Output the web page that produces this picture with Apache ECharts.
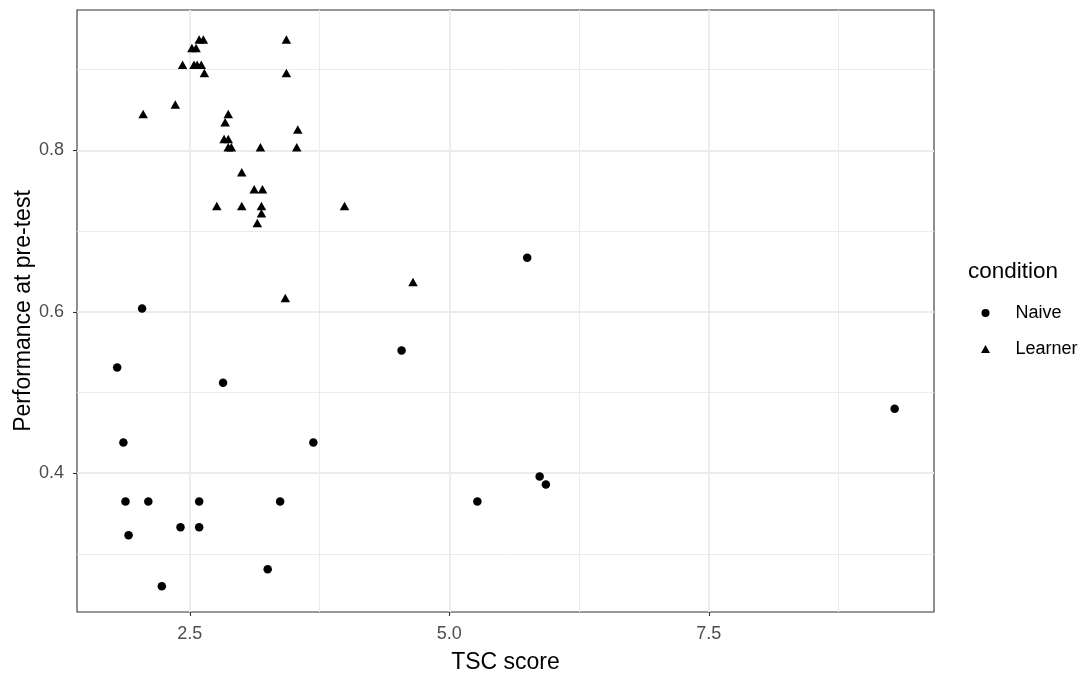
<!DOCTYPE html>
<html>
<head>
<meta charset="utf-8">
<title>Performance at pre-test vs TSC score</title>
<script src="https://cdn.jsdelivr.net/npm/echarts@6/dist/echarts.min.js"></script>
<style>
  html, body { margin: 0; padding: 0; background: #ffffff; }
  #chart { width: 1088px; height: 677px; }
</style>
</head>
<body>
<div id="chart"></div>
<script>
// Observations per condition: [TSC score, performance at pre-test]
const naive = [
  [2.04, 0.604], [1.80, 0.531], [2.82, 0.512], [1.86, 0.438], [3.69, 0.438],
  [1.88, 0.365], [2.10, 0.365], [2.59, 0.365], [3.37, 0.365], [2.41, 0.333],
  [2.59, 0.333], [1.91, 0.323], [3.25, 0.281], [2.23, 0.260], [5.75, 0.667],
  [4.54, 0.552], [9.29, 0.480], [5.87, 0.396], [5.93, 0.386], [5.27, 0.365]
];
const learner = [
  [2.59, 0.9375], [2.63, 0.9375], [3.43, 0.9375], [2.52, 0.927], [2.56, 0.927],
  [2.43, 0.906], [2.54, 0.906], [2.57, 0.906], [2.61, 0.906], [2.64, 0.896],
  [3.43, 0.896], [2.36, 0.857], [2.05, 0.845], [2.87, 0.845], [2.84, 0.835],
  [3.54, 0.826], [2.83, 0.814], [2.87, 0.814], [2.87, 0.804], [2.90, 0.804],
  [3.18, 0.804], [3.53, 0.804], [3.00, 0.773], [3.12, 0.752], [3.20, 0.752],
  [2.76, 0.731], [3.00, 0.731], [3.19, 0.731], [3.99, 0.731], [3.19, 0.722],
  [3.15, 0.710], [4.65, 0.637], [3.42, 0.617]
];

// Axis breaks
const xMajor = [2.5, 5.0, 7.5];
const xMinor = [3.75, 6.25, 8.75];
const yMajor = [0.4, 0.6, 0.8];
const yMinor = [0.3, 0.5, 0.7, 0.9];
const xLimits = [1.413, 9.669];
const yLimits = [0.228, 0.974];

const FONT = '"Liberation Sans", Arial, sans-serif';
const GRID_COL = '#EBEBEB';
const INK = '#333333';
const LABEL_COL = '#4D4D4D';

function gridLines(values, key, width) {
  return values.map(v => ({ [key]: v, lineStyle: { width: width } }));
}

const chart = echarts.init(document.getElementById('chart'), null, { renderer: 'canvas' });

chart.setOption({
  animation: false,
  backgroundColor: '#ffffff',
  textStyle: { fontFamily: FONT },
  title: {
    text: 'condition',
    left: 968,
    top: 260,
    padding: 0,
    textStyle: { fontFamily: FONT, fontSize: 22.5, fontWeight: 'normal', color: '#000000', lineHeight: 24 }
  },
  legend: {
    orient: 'vertical',
    left: 981,
    top: 303,
    padding: 0,
    itemGap: 16,
    itemWidth: 50,
    itemHeight: 8,
    symbolKeepAspect: true,
    selectedMode: false,
    textStyle: { fontFamily: FONT, fontSize: 18, color: '#000000', lineHeight: 20 },
    data: [
      { name: 'Naive', icon: 'path://M4,0A4,4,0,1,1,4,8A4,4,0,1,1,4,0Z' },
      { name: 'Learner', icon: 'path://M4.5,0L9,8L0,8Z' }
    ]
  },
  grid: {
    left: 77,
    right: 154,
    top: 10,
    bottom: 65,
    outerBoundsMode: 'none',
    containLabel: false,
    show: true,
    borderColor: INK,
    borderWidth: 1.1,
    backgroundColor: 'transparent'
  },
  xAxis: {
    type: 'value',
    min: xLimits[0],
    max: xLimits[1],
    name: 'TSC score',
    nameLocation: 'middle',
    nameMoveOverlap: false,
    nameGap: 39,
    nameTextStyle: { fontFamily: FONT, fontSize: 23, color: '#000000' },
    axisLine: { show: false },
    axisTick: { show: true, length: 4, lineStyle: { color: INK, width: 1.1 }, customValues: xMajor },
    axisLabel: {
      customValues: xMajor,
      margin: 13,
      fontFamily: FONT,
      fontSize: 18,
      color: LABEL_COL,
      formatter: v => v.toFixed(1)
    },
    splitLine: { show: false }
  },
  yAxis: {
    type: 'value',
    min: yLimits[0],
    max: yLimits[1],
    name: 'Performance at pre-test',
    nameLocation: 'middle',
    nameMoveOverlap: false,
    nameGap: 42,
    nameRotate: 90,
    nameTextStyle: { fontFamily: FONT, fontSize: 23, color: '#000000' },
    axisLine: { show: false },
    axisTick: { show: true, length: 4, lineStyle: { color: INK, width: 1.1 }, customValues: yMajor },
    axisLabel: {
      customValues: yMajor,
      margin: 13,
      fontFamily: FONT,
      fontSize: 18,
      color: LABEL_COL,
      formatter: v => v.toFixed(1)
    },
    splitLine: { show: false }
  },
  series: [
    {
      // background panel grid: minor then major lines
      name: 'panel-grid',
      type: 'line',
      data: [],
      z: 0,
      silent: true,
      markLine: {
        silent: true,
        z: 0,
        symbol: 'none',
        label: { show: false },
        lineStyle: { color: GRID_COL, type: 'solid', width: 1 },
        emphasis: { disabled: true },
        data: [].concat(
          gridLines(xMinor, 'xAxis', 1),
          gridLines(yMinor, 'yAxis', 1),
          gridLines(xMajor, 'xAxis', 1.8),
          gridLines(yMajor, 'yAxis', 1.8)
        )
      }
    },
    {
      name: 'Naive',
      type: 'scatter',
      data: naive,
      symbol: 'circle',
      symbolSize: 8.5,
      itemStyle: { color: '#000000', opacity: 1 },
      z: 10
    },
    {
      name: 'Learner',
      type: 'scatter',
      data: learner,
      symbol: 'triangle',
      symbolSize: [9.5, 8.5],
      itemStyle: { color: '#000000', opacity: 1 },
      z: 10
    }
  ]
});
</script>
</body>
</html>
